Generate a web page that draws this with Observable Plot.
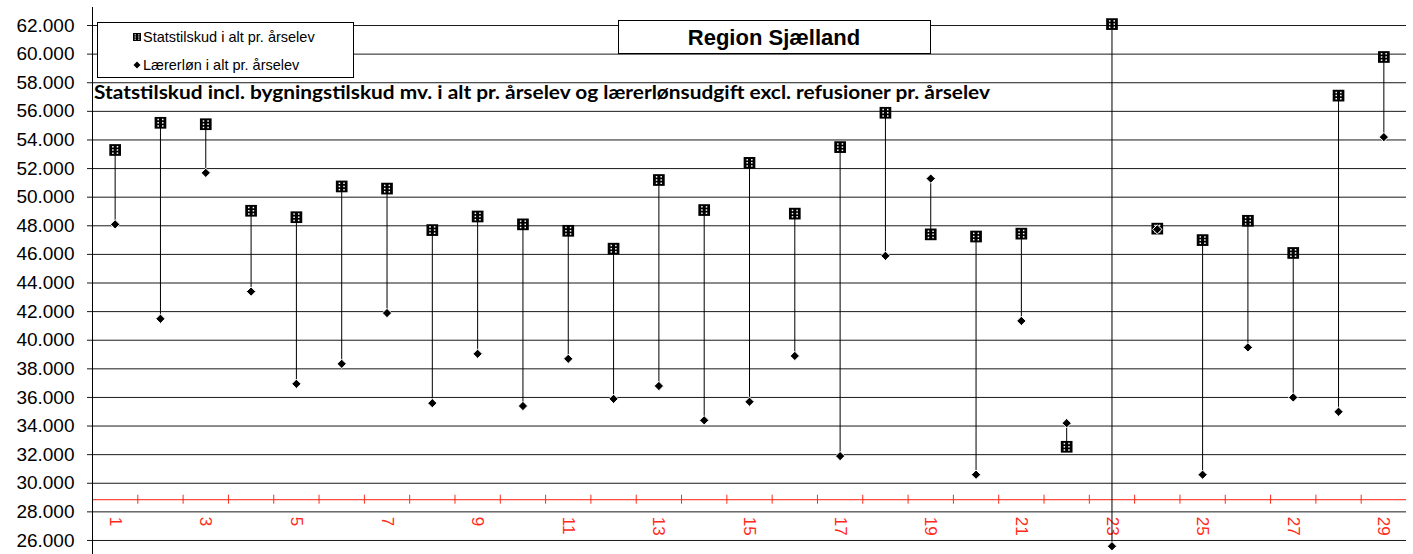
<!DOCTYPE html>
<html>
<head>
<meta charset="utf-8">
<script src="https://cdn.jsdelivr.net/npm/d3@7"></script>
<script src="https://cdn.jsdelivr.net/npm/@observablehq/plot@0.6"></script>
<style>
  html, body { margin: 0; padding: 0; background: #fff; }
  #chart svg { display: block; }
</style>
</head>
<body>
<div id="chart"></div>
<script>
// ---- Data ----
const categories = [1,2,3,4,5,6,7,8,9,10,11,12,13,14,15,16,17,18,19,20,21,22,23,24,25,26,27,28,29];
const statstilskud = [53300,55200,55100,49050,48600,50750,50600,47700,48650,48100,47650,46400,51200,49100,52400,48850,53500,55900,47400,47250,47450,32550,62100,47800,47000,48350,46100,57100,59800];
const laererloen = [48100,41500,51700,43400,36950,38350,41900,35600,39050,35400,38700,35900,36800,34400,35700,38900,31900,45900,51300,30600,41350,34200,25600,47750,30600,39500,36000,35000,54200];
const xTickLabels = [1,3,5,7,9,11,13,15,17,19,21,23,25,27,29];
const yTicks = [26000,28000,30000,32000,34000,36000,38000,40000,42000,44000,46000,48000,50000,52000,54000,56000,58000,60000,62000];

const seriesNames = ["Statstilskud i alt pr. årselev", "Lærerløn i alt pr. årselev"];
const chartTitle = "Region Sjælland";
const chartSubtitle = "Statstilskud incl. bygningstilskud mv. i alt pr. årselev og lærerlønsudgift excl. refusioner pr. årselev";

const rows = categories.map((c, i) => ({cat: c, stat: statstilskud[i], laerer: laererloen[i]}));
const boundaries = categories.slice(1).map(c => c - 0.5);
const axisCross = 28850;

const dk = d3.formatLocale({decimal: ",", thousands: ".", grouping: [3], currency: ["", " kr."]});
const fmt = dk.format(",.0f");

const RED = "#ff2a1a";
const dotOffsets = [[-2.3,-3.2],[2.3,-3.2],[-2.3,0],[2.3,0],[-2.3,3.2],[2.3,3.2]];

const chart = Plot.plot({
  width: 1413,
  height: 554,
  marginLeft: 92,
  marginRight: 7,
  marginTop: 7,
  marginBottom: 0,
  style: {fontFamily: "'Liberation Sans', Arial, sans-serif", fontSize: "19px", color: "#000", background: "#fff"},
  x: {domain: [0.5, 29.5], axis: null},
  y: {domain: [25020, 63260], axis: null},
  marks: [
    Plot.gridY(yTicks, {stroke: "#000", strokeOpacity: 0.9, strokeWidth: 1}),
    Plot.axisY(yTicks, {tickFormat: fmt, tickSize: 5, tickPadding: 13, fontSize: 19, stroke: "#000", strokeOpacity: 0.9}),
    Plot.ruleY([axisCross], {stroke: RED, strokeWidth: 1.3, strokeOpacity: 0.85}),
    Plot.ruleX(boundaries, {x: d => d, y1: () => axisCross, y2: () => axisCross, insetTop: -4.5, insetBottom: -4.5, stroke: RED, strokeWidth: 1}),
    Plot.text(xTickLabels, {x: d => d, y: () => axisCross, text: d => String(d), rotate: 90, textAnchor: "start", dy: 17, fill: RED, fontSize: 17}),
    Plot.ruleX([0.5], {stroke: "#000", strokeWidth: 1}),
    Plot.ruleX(rows, {x: "cat", y1: "stat", y2: "laerer", stroke: "#000", strokeWidth: 1}),
    Plot.dot(rows, {x: "cat", y: "stat", symbol: "square", r: 6.6, fill: "#000", stroke: "none"}),
    ...dotOffsets.map(([dx, dy]) => Plot.dot(rows, {x: "cat", y: "stat", dx, dy, symbol: "square", r: 0.85, fill: "#fff", stroke: "none"})),
    Plot.dot(rows, {x: "cat", y: "laerer", symbol: "diamond2", r: 4.2, fill: "#000", stroke: "#fff", strokeWidth: 1})
  ]
});

document.getElementById("chart").appendChild(chart);

// ---- Overlays: legend, title box, subtitle ----
const svg = d3.select(chart);
const g = svg.append("g")
  .attr("font-family", "'Liberation Sans', Arial, sans-serif")
  .attr("text-anchor", "start");

// Legend box
g.append("rect").attr("x", 97.5).attr("y", 22.5).attr("width", 256).attr("height", 55)
  .attr("fill", "#fff").attr("stroke", "#000").attr("stroke-width", 1);
// legend square symbol
const lsx = 137, lsy = 37;
g.append("rect").attr("x", lsx - 4).attr("y", lsy - 4).attr("width", 8).attr("height", 8).attr("fill", "#000");
[[-1.8,-2.2],[1.8,-2.2],[-1.8,0],[1.8,0],[-1.8,2.2],[1.8,2.2]].forEach(([dx, dy]) => {
  g.append("rect").attr("x", lsx + dx - 0.6).attr("y", lsy + dy - 0.6).attr("width", 1.2).attr("height", 1.2).attr("fill", "#fff");
});
g.append("text").attr("x", 143).attr("y", lsy).attr("dy", "0.35em").attr("text-anchor", "start")
  .attr("font-size", 14.5).attr("fill", "#000").text(seriesNames[0]);
// legend diamond symbol
const ldx = 137, ldy = 65;
g.append("path").attr("d", `M${ldx},${ldy-3.5}L${ldx+3.5},${ldy}L${ldx},${ldy+3.5}L${ldx-3.5},${ldy}Z`).attr("fill", "#000");
g.append("text").attr("x", 143).attr("y", ldy).attr("dy", "0.35em").attr("text-anchor", "start")
  .attr("font-size", 14.5).attr("fill", "#000").text(seriesNames[1]);

// Title box
g.append("rect").attr("x", 618.5).attr("y", 20.5).attr("width", 312).attr("height", 33)
  .attr("fill", "#fff").attr("stroke", "#000").attr("stroke-width", 1);
g.append("text").attr("x", 774).attr("y", 37).attr("dy", "0.36em").attr("text-anchor", "middle")
  .attr("font-size", 22).attr("font-weight", "bold").attr("fill", "#000").text(chartTitle);

// Subtitle
g.append("text").attr("x", 94).attr("y", 99).attr("text-anchor", "start")
  .attr("font-family", "Lato, 'Open Sans', sans-serif")
  .attr("font-size", 18).attr("font-weight", "bold").attr("fill", "#000")
  .attr("textLength", 896).attr("lengthAdjust", "spacingAndGlyphs").text(chartSubtitle);
</script>
</body>
</html>
